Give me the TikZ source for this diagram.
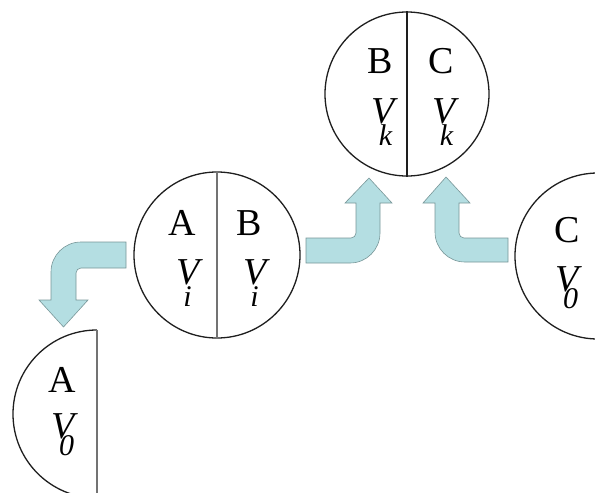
\documentclass[tikz,border=0pt]{standalone}
\usepackage{fontspec}
\setmainfont{Liberation Serif}

\definecolor{arrowfill}{RGB}{180,222,226}
\definecolor{arrowline}{RGB}{120,150,152}
\definecolor{ringline}{RGB}{30,30,30}
\definecolor{splitgray}{RGB}{115,115,115}

% italic V with a large, low subscript tucked under it
\newcommand{\vsub}[2][-22pt]{\itshape V\kern-16pt\raisebox{#1}{\fontsize{30}{30}\selectfont\itshape #2}}

\begin{document}
\begin{tikzpicture}[x=1pt,y=1pt,
  ring/.style={circle,draw=ringline,line width=1.3pt,inner sep=0pt},
  splitdark/.style={draw=ringline,line width=1.3pt},
  splitlight/.style={draw=splitgray,line width=2pt},
  lbl/.style={font=\fontsize{38}{42}\selectfont,anchor=base,inner sep=0pt},
  blockarrow/.style={fill=arrowfill,draw=arrowline,line width=0.6pt,line join=miter}]

\useasboundingbox (0,0) rectangle (595,-493);
\clip (0,0) rectangle (595,-493);

% ---- circles ----
\node[ring,minimum size=166pt] (mid) at (217,-255) {};
\draw[splitlight] (mid.north) -- (mid.south);

\node[ring,minimum size=164pt] (top) at (407,-94) {};
\draw[splitdark] (top.north) -- (top.south);

\node[ring,minimum size=166pt] (cz) at (598,-256) {};

% left half circle
\coordinate (az) at (97,-414);
\draw[draw=ringline,line width=1.3pt] (az) ++(0,84) arc(90:270:84);
\draw[splitlight] (97,-330) -- (97,-500);

% ---- labels ----
\node[lbl] (midA)  at (182,-235) {A};
\node[lbl] (midB)  at (249,-235) {B};
\node[lbl] (midVa) at (184,-284) {\vsub{i}};
\node[lbl] (midVb) at (251,-284) {\vsub{i}};

\node[lbl] (topB)  at (380,-73) {B};
\node[lbl] (topC)  at (441,-73) {C};
\node[lbl] (topVb) at (382,-123) {\vsub{k}};
\node[lbl] (topVc) at (443,-123) {\vsub{k}};

\node[lbl] (czC) at (567,-242) {C};
\node[lbl] (czV) at (567,-291) {\vsub[-17pt]{0}};

\node[lbl] (azA) at (62,-392) {A};
\node[lbl] (azV) at (63,-438) {\vsub[-17pt]{0}};

% ---- bent block arrows ----
% middle circle up to the top circle
\path[blockarrow] (306,-238) -- (351,-238) arc(270:360:5) -- (356,-203)
  -- (345,-203) -- (369,-178) -- (392,-203) -- (380,-203) -- (380,-233)
  arc(0:-90:30) -- (306,-263) -- cycle;

% right circle up to the top circle
\path[blockarrow] (508,-238) -- (464,-238) arc(270:180:5) -- (459,-203)
  -- (470,-203) -- (446,-177) -- (423,-203) -- (435,-203) -- (435,-232)
  arc(180:270:30) -- (508,-262) -- cycle;

% middle circle down to the half circle
\path[blockarrow] (126,-242) -- (81,-242) arc(90:180:30) -- (51,-300)
  -- (39,-300) -- (63.5,-327) -- (88,-300) -- (76,-300) -- (76,-273)
  arc(180:90:5) -- (126,-268) -- cycle;

\end{tikzpicture}
\end{document}
